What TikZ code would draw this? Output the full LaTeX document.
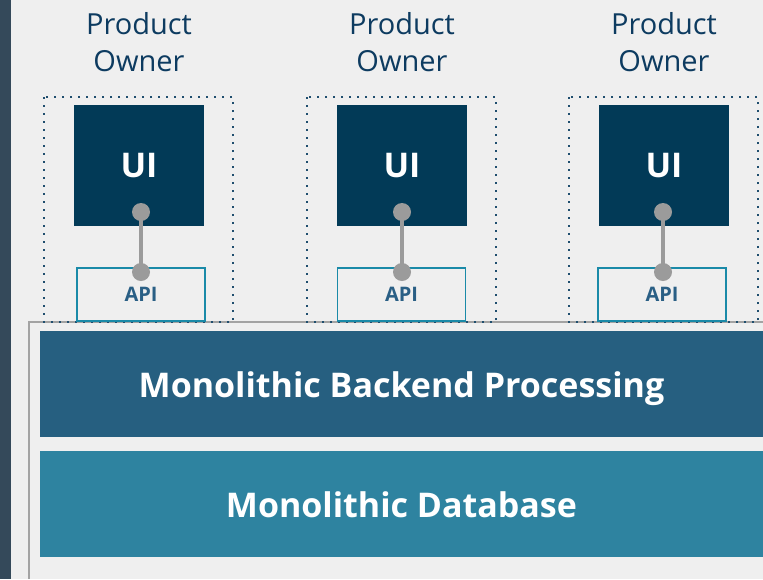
\documentclass[tikz,border=0pt]{standalone}
\usepackage{fontspec}
\setmainfont{Open Sans}
\definecolor{bgc}{HTML}{EFEFEF}
\definecolor{stripc}{HTML}{34495A}
\definecolor{ownerc}{HTML}{0D3B60}
\definecolor{uic}{HTML}{023A57}
\definecolor{apitxt}{HTML}{2A5F85}
\definecolor{apiedge}{HTML}{1A8AA8}
\definecolor{dotc}{HTML}{1F4E6E}
\definecolor{linkc}{HTML}{9B9B9B}
\definecolor{framec}{HTML}{A3A3A3}
\definecolor{backc}{HTML}{265F80}
\definecolor{dbc}{HTML}{2E83A0}
\begin{document}
\begin{tikzpicture}[x=1pt,y=-1pt,
  owner/.style={text=ownerc,font=\fontsize{29}{37}\selectfont,align=center,inner sep=0pt},
  uibox/.style={fill=uic,draw=none,minimum width=130pt,minimum height=121pt,inner sep=0pt,
    text=white,font=\fontsize{34}{40}\selectfont\bfseries},
  apibox/.style={draw=apiedge,line width=1.6pt,fill=bgc,minimum width=128pt,minimum height=53pt,inner sep=0pt,
    text=apitxt,font=\fontsize{20}{24}\selectfont\bfseries,text depth=0pt},
  team/.style={draw=dotc,line width=2pt,dash pattern=on 2pt off 6pt},
  layer/.style={draw=none,minimum width=723pt,minimum height=106pt,inner sep=0pt,
    text=white,font=\fontsize{34}{40}\selectfont\bfseries,text depth=0pt,text height=26pt},
  link/.style={draw=linkc,line width=3.5pt},
  joint/.style={circle,fill=linkc,minimum size=18pt,inner sep=0pt}]
\useasboundingbox (0,0) rectangle (763,579);
\fill[bgc] (0,0) rectangle (763,579);
\fill[stripc] (0,0) rectangle (11,579);

% frame holding the shared layers
\draw[framec,line width=2pt] (29,579) -- (29,322) -- (763,322);

% shared layers
\node[layer,fill=backc] (backend) at (401.5,384) {Monolithic Backend Processing};
\node[layer,fill=dbc] (db) at (401.5,504) {Monolithic Database};

% three product teams
\foreach \i/\bx/\ux/\ax/\lx in {1/44/139/141/141, 2/307/402/401.5/402, 3/569/664/662/663} {
  \draw[team] (\bx,97) rectangle (\bx+189,322);
  \node[owner] (owner\i) at (\ux,42) {Product\\Owner};
  \node[uibox] (ui\i) at (\ux,165.5) {UI};
  \node[apibox] (api\i) at (\ax,294.5) {API};
  \coordinate (uiport\i) at (\lx,212);
  \coordinate (apiport\i) at (\lx,272);
  \draw[link] (uiport\i) -- (apiport\i);
  \node[joint] (uijoint\i) at (uiport\i) {};
  \node[joint] (apijoint\i) at (apiport\i) {};
}
\end{tikzpicture}
\end{document}
